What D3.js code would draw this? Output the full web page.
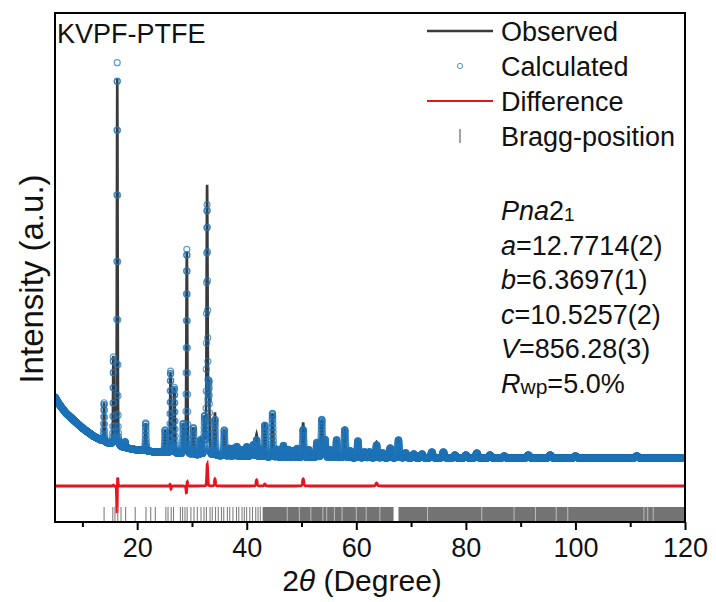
<!DOCTYPE html>
<html><head><meta charset="utf-8">
<script src="https://cdn.jsdelivr.net/npm/d3@7"></script>
<style>
body{margin:0;background:#fff}
svg{display:block}
text{font-family:Arial,"Liberation Sans",Helvetica,sans-serif;fill:#111}
</style></head>
<body><svg id="chart" width="716" height="602"></svg>
<script>
// ---------------- data (intensity in arbitrary counts) ----------------
const bgTheta = [5, 5.5, 6, 7, 8, 9, 10, 11, 12, 14, 17, 20, 25, 30, 35, 45, 60, 120];
const bgCounts = [1250, 1200, 1160, 1090, 1040, 990, 940, 900, 860, 800, 750, 720, 690, 670, 660, 645, 640, 640];

const peakPos = [13.96, 15.66, 16.36, 17.8, 21.56, 25.1, 26.1, 26.8, 28.4, 29.06, 30.26, 31.6, 32.3, 32.76, 33.1,
  34.2, 35.9, 36.8, 37.6, 38.2, 39.1, 40.0, 40.7, 41.2, 41.8, 42.5, 43.3, 44.7, 45.6, 46.7, 47.6, 48.4, 49.2,
  50.3, 51.3, 52.8, 53.7, 54.3, 55.2, 56.4, 57.9, 58.9, 60.3, 61.5, 62.4, 63.7, 64.8, 66.2, 67.7, 69.0, 70.5,
  72.0, 73.8, 75.9, 78.0, 80.0, 82.0, 84.4, 87.0, 91.4, 95.4, 100.0, 111.2];
const peakCalc = [390, 870, 3830, 60, 280, 230, 820, 660, 300, 2050, 270, 150, 370, 2490, 700,
  360, 260, 80, 80, 100, 70, 100, 90, 120, 170, 80, 320, 440, 80, 120, 80, 70, 90,
  280, 80, 150, 380, 180, 80, 180, 280, 70, 170, 60, 60, 130, 50, 100, 180, 50, 40,
  40, 60, 60, 30, 30, 50, 30, 20, 30, 30, 20, 20];
const peakObs = [390, 880, 3680, 60, 280, 230, 810, 660, 300, 2030, 270, 150, 370, 2690, 700,
  430, 260, 80, 80, 100, 70, 100, 90, 120, 230, 80, 340, 440, 80, 120, 80, 70, 90,
  350, 80, 150, 380, 180, 80, 180, 280, 70, 170, 60, 60, 160, 50, 100, 180, 50, 40,
  40, 60, 60, 30, 30, 50, 30, 20, 30, 30, 20, 20];
const peakObsShift = [0, 0, 0.005, 0, 0, 0, -0.004, 0, 0, 0.004, 0, 0, 0, 0.003, 0,
  0, 0, 0, 0, 0, 0, 0, 0, 0, 0, 0, 0, 0, 0, 0, 0, 0, 0,
  0, 0, 0, 0, 0, 0, 0, 0, 0, 0, 0, 0, 0, 0, 0, 0, 0, 0,
  0, 0, 0, 0, 0, 0, 0, 0, 0, 0, 0, 0];

const braggTicks = [13.96, 15.55, 15.95, 16.46, 17.05, 17.89, 19.64, 21.61, 22.47, 23.31, 25.23, 25.63, 26.21,
  26.63, 27.89, 28.29, 28.73, 29.13, 29.81, 30.37, 30.98, 31.65, 32.2, 32.64, 33.3, 33.71, 34.3, 34.81, 35.39,
  35.8, 36.47, 36.89, 37.48, 38.13, 38.55, 39.14, 39.56, 39.98, 40.56, 41.05, 41.64, 42.06, 42.48];
const braggBands = [[42.9, 66.8], [67.7, 120]];
const braggGaps = [47.4, 49.6, 51.7, 53.9, 54.6, 56.0, 57.4, 60.0, 61.8, 64.3, 73.0, 82.9, 88.8, 92.7, 96.5, 98.6, 112.5, 113.2, 114.2];

const xMajor = [20, 40, 60, 80, 100, 120];
const xMinor = [10, 30, 50, 70, 90, 110];
const diffOffset = 360;
const legendLabels = ["Observed", "Calculated", "Difference", "Bragg-position"];

// ---------------- layout ----------------
const L = 55, R = 685, T = 13, B = 522;
const svg = d3.select("#chart");
const x = d3.scaleLinear().domain([5, 120]).range([L, R]);
const y = d3.scaleLinear().domain([0, 5090]).range([B, T]);
const bg = d3.scaleLinear().domain(bgTheta).range(bgCounts);

// profile (pseudo-Voigt) built from the peak list
function fwhm(p) { return 0.15 + 0.004 * Math.max(0, p - 15); }
function pv(t, p, h) {
  const w = fwhm(p), d = (t - p) / w;
  return h * (0.8 * Math.exp(-2.7726 * d * d) + 0.2 / (1 + 4 * d * d));
}
const grid = d3.range(0, 5751).map(i => 5 + i * 0.02);
const pts = grid.map(t => {
  let c = bg(t), o = bg(t);
  for (let k = 0; k < peakPos.length; k++) {
    if (Math.abs(t - peakPos[k]) < 4) {
      c += pv(t, peakPos[k], peakCalc[k]);
      o += pv(t, peakPos[k] + peakObsShift[k], peakObs[k]);
    }
  }
  return {t, c, o};
});

svg.append("defs").append("clipPath").attr("id", "clip")
  .append("rect").attr("x", L).attr("y", T).attr("width", R - L).attr("height", B - T);
const plot = svg.append("g").attr("clip-path", "url(#clip)");

// observed
plot.append("path").datum(pts)
  .attr("fill", "none").attr("stroke", "#3a3a3a").attr("stroke-width", 2.6)
  .attr("d", d3.line().x(d => x(d.t)).y(d => y(d.o)));

// calculated
plot.append("g").selectAll("circle").data(pts).join("circle")
  .attr("cx", d => x(d.t)).attr("cy", d => y(d.c)).attr("r", 3.0)
  .attr("fill", "none").attr("stroke", "#1f74b6").attr("stroke-opacity", 0.7).attr("stroke-width", 1.2);

// difference
plot.append("path").datum(pts)
  .attr("fill", "none").attr("stroke", "#e8141c").attr("stroke-width", 2.8)
  .attr("d", d3.line().x(d => x(d.t)).y(d => y(diffOffset + d.o - d.c)));

// bragg positions
const bTop = y(150), bBot = y(10);
plot.append("g").selectAll("rect").data(braggBands).join("rect")
  .attr("x", d => x(d[0])).attr("width", d => x(d[1]) - x(d[0]))
  .attr("y", bTop).attr("height", bBot - bTop).attr("fill", "#737373");
plot.append("g").selectAll("line").data(braggTicks).join("line")
  .attr("x1", d => x(d)).attr("x2", d => x(d)).attr("y1", bTop).attr("y2", bBot)
  .attr("stroke", "#808080").attr("stroke-width", 1.1);
plot.append("g").selectAll("line").data(braggGaps).join("line")
  .attr("x1", d => x(d)).attr("x2", d => x(d)).attr("y1", bTop).attr("y2", bBot)
  .attr("stroke", "#d0d0d0").attr("stroke-width", 0.8);

// frame
svg.append("rect").attr("x", L).attr("y", T).attr("width", R - L).attr("height", B - T)
  .attr("fill", "none").attr("stroke", "#000").attr("stroke-width", 2);

// x axis
const ax = svg.append("g").attr("transform", `translate(0,${B})`)
  .call(d3.axisBottom(x).tickValues(xMajor).tickSize(8).tickPadding(8).tickFormat(d3.format("d")));
ax.select(".domain").remove();
ax.selectAll(".tick line").attr("stroke", "#000").attr("stroke-width", 2);
ax.selectAll(".tick text").attr("font-size", 27).attr("font-family", "Arial, Liberation Sans, sans-serif").attr("fill", "#111");
const axm = svg.append("g").attr("transform", `translate(0,${B})`)
  .call(d3.axisBottom(x).tickValues(xMinor).tickSize(5).tickFormat(""));
axm.select(".domain").remove();
axm.selectAll(".tick line").attr("stroke", "#000").attr("stroke-width", 2);

// axis titles
const xt = svg.append("text").attr("x", (L + R) / 2 - 8).attr("y", 591).attr("text-anchor", "middle").attr("font-size", 30);
xt.append("tspan").text("2");
xt.append("tspan").attr("font-style", "italic").text("θ");
xt.append("tspan").text(" (Degree)");
svg.append("text").attr("transform", "translate(43,279) rotate(-90)").attr("text-anchor", "middle")
  .attr("font-size", 33).text("Intensity (a.u.)");

// sample label
svg.append("text").attr("x", 57).attr("y", 43).attr("font-size", 27).text("KVPF-PTFE");

// legend
const lg = svg.append("g");
const rowY = [31, 66, 101, 136];
lg.append("line").attr("x1", 427).attr("x2", 493).attr("y1", rowY[0]).attr("y2", rowY[0]).attr("stroke", "#3a3a3a").attr("stroke-width", 2.6);
lg.append("circle").attr("cx", 460).attr("cy", rowY[1]).attr("r", 2.6).attr("fill", "none").attr("stroke", "#4b95cf").attr("stroke-width", 1);
lg.append("line").attr("x1", 427).attr("x2", 493).attr("y1", rowY[2]).attr("y2", rowY[2]).attr("stroke", "#e8141c").attr("stroke-width", 2.2);
lg.append("line").attr("x1", 460).attr("x2", 460).attr("y1", rowY[3] - 7).attr("y2", rowY[3] + 7).attr("stroke", "#999").attr("stroke-width", 1.8);
lg.selectAll("text").data(legendLabels).join("text")
  .attr("x", 501).attr("y", (d, i) => rowY[i] + 10).attr("font-size", 27).text(d => d);

// refinement info
const info = svg.append("g").attr("font-size", 27);
const iy = [220, 255, 289, 324, 358, 393];
let t0 = info.append("text").attr("x", 501).attr("y", iy[0]);
t0.append("tspan").attr("font-style", "italic").text("Pna");
t0.append("tspan").text("2");
t0.append("tspan").attr("font-size", 19).attr("dy", 1).text("1");
const abc = [["a", "=12.7714(2)"], ["b", "=6.3697(1)"], ["c", "=10.5257(2)"], ["V", "=856.28(3)"]];
abc.forEach((p, i) => {
  const t = info.append("text").attr("x", 501).attr("y", iy[i + 1]);
  t.append("tspan").attr("font-style", "italic").text(p[0]);
  t.append("tspan").text(p[1]);
});
let t5 = info.append("text").attr("x", 501).attr("y", iy[5]);
t5.append("tspan").attr("font-style", "italic").text("R");
t5.append("tspan").attr("font-size", 21).attr("dy", 1).text("wp");
t5.append("tspan").attr("dy", -1).text("=5.0%");
</script>
</body></html>
